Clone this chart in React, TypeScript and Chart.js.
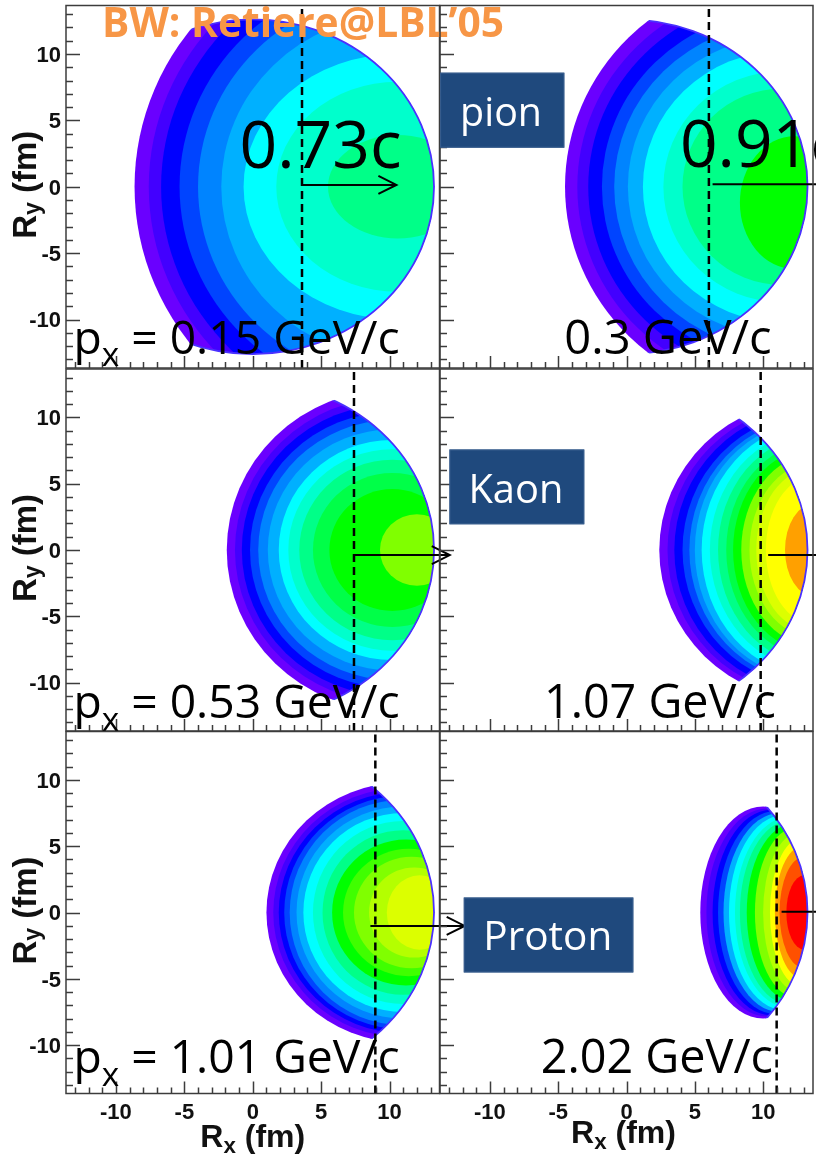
import React, { useEffect, useRef } from "react";
import { Chart, registerables } from "chart.js";

Chart.register(...registerables);

const W = 816;
const H = 1160;
const X_MIN = -13.65;
const X_MAX = 13.65;
const Y_MIN = -13.65;
const Y_MAX = 13.65;
const DISC_RX = 13.25;
const DISC_RY = 12.6;
const TICK_LABELS = [-10, -5, 0, 5, 10];

// colour levels (ROOT-like rainbow palette)
const PALETTE = [
  "#6a00ff", "#4200ff", "#0000ff", "#0044ff", "#0084ff", "#00b0ff", "#00d4ff",
  "#00ffff", "#00ffcc", "#00ff88", "#00ff48", "#00ff00", "#40ff00", "#80ff00",
  "#b4ff00", "#dcff00", "#ffff00", "#ffcc00", "#ffa000", "#ff5000", "#ff0000",
];

// ---- pion, px = 0.15 GeV/c : contour level boundaries (fm) ----
const pionLowEdge = [-8.64, -7.6, -6.7, -5.35, -4.0, -2.3, -0.67, 1.72, 5.5];
const pionLowCenter = [10.6, 10.6, 10.6, 10.6, 10.6, 10.6, 10.6, 10.6, 10.6];
const pionLowHalf = [19.2, 18.2, 17.3, 15.9, 14.6, 12.9, 10.0, 7.9, 3.9];
const pionLowCenterY = [0, 0, 0, 0, 0, 0, 0, 0, 0];
const pionLowColor = [0, 1, 2, 3, 4, 5, 7, 8, 9];

// ---- pion, px = 0.3 GeV/c ----
const pionHighEdge = [-4.5, -3.6, -2.8, -1.8, -0.9, 0.1, 1.2, 2.7, 4.1, 8.3];
const pionHighCenter = [11.4, 11.4, 11.4, 11.4, 11.4, 11.4, 11.4, 11.4, 11.4, 12.3];
const pionHighHalf = [15.9, 15.0, 14.2, 13.2, 12.3, 11.3, 10.2, 8.7, 7.4, 5.0];
const pionHighCenterY = [0, 0, 0, 0, 0, 0, 0, 0, 0, -1.2];
const pionHighColor = [0, 1, 2, 3, 4, 5, 7, 8, 9, 11];

// ---- kaon, px = 0.53 GeV/c ----
const kaonLowEdge = [-1.9, -1.3, -0.8, -0.2, 0.4, 1.1, 1.9, 2.6, 3.4, 4.4, 5.6, 9.3];
const kaonLowCenter = [10.2, 10.2, 10.2, 10.2, 10.2, 10.2, 10.2, 10.2, 10.2, 10.2, 10.2, 12.0];
const kaonLowHalf = [12.1, 11.5, 11.0, 10.4, 9.8, 9.1, 8.3, 7.6, 6.8, 5.8, 4.6, 2.7];
const kaonLowCenterY = [0, 0, 0, 0, 0, 0, 0, 0, 0, 0, 0, 0];
const kaonLowColor = [0, 1, 2, 3, 4, 5, 7, 8, 9, 10, 11, 13];

// ---- kaon, px = 1.07 GeV/c ----
const kaonHighEdge = [2.4, 3.0, 3.5, 4.1, 4.6, 5.0, 5.5, 6.1, 6.7, 7.3, 7.8, 8.4, 9.0, 9.5, 10.2, 11.6];
const kaonHighCenter = [13.75, 13.75, 13.75, 13.75, 13.75, 13.75, 13.75, 13.75, 13.75, 13.75, 13.75, 13.75, 13.75, 13.75, 13.75, 13.75];
const kaonHighHalf = [11.35, 11.0, 10.7, 10.3, 10.0, 9.8, 9.5, 9.0, 8.6, 8.1, 7.7, 7.2, 6.6, 6.2, 5.6, 3.5];
const kaonHighCenterY = [0, 0, 0, 0, 0, 0, 0, 0, 0, 0, 0, 0, 0, 0, 0, 0];
const kaonHighColor = [0, 1, 2, 3, 4, 5, 7, 8, 9, 10, 11, 13, 14, 15, 16, 18];

// ---- proton, px = 1.01 GeV/c ----
const protonLowEdge = [1.0, 1.5, 1.9, 2.3, 2.7, 3.2, 3.7, 4.4, 5.1, 5.8, 6.6, 7.4, 8.5, 9.8];
const protonLowCenter = [11, 11, 11, 11, 11, 11, 11, 11, 11, 11.2, 11.4, 11.6, 11.8, 12.2];
const protonLowHalf = [9.8, 9.4, 9.1, 8.8, 8.5, 8.0, 7.5, 6.9, 6.2, 5.5, 4.8, 4.2, 3.4, 2.8];
const protonLowCenterY = [0, 0, 0, 0, 0, 0, 0, 0, 0, 0, 0, 0, 0, 0];
const protonLowColor = [0, 1, 2, 3, 4, 5, 7, 8, 9, 11, 12, 13, 14, 15];

// ---- proton, px = 2.02 GeV/c ----
const protonHighEdge = [5.4, 5.85, 6.3, 6.7, 7.1, 7.5, 7.94, 8.3, 8.8, 9.4, 10.0, 10.5, 10.86, 11.2, 11.7];
const protonHighCenter = [10.0, 10.3, 10.6, 10.9, 11.2, 11.5, 11.8, 12.0, 12.2, 12.4, 12.6, 12.8, 12.9, 13.0, 13.0];
const protonHighHalf = [8.0, 7.85, 7.75, 7.65, 7.5, 7.35, 7.15, 6.95, 6.7, 6.4, 6.0, 5.6, 5.0, 4.2, 2.8];
const protonHighCenterY = [0, 0, 0, 0, 0, 0, 0, 0, 0, 0, 0, 0, 0, 0, 0];
const protonHighColor = [0, 1, 2, 3, 5, 7, 8, 9, 11, 13, 14, 16, 18, 19, 20];

// momenta and flow velocities
const momentumLabels = ["0.15", "0.3", "0.53", "1.07", "1.01", "2.02"];
const speedLabels = ["0.73c", "0.91c"];
const particleLabels = ["pion", "Kaon", "Proton"];
// mean emission position (dashed line, fm)
const meanX = [3.6, 6.03, 7.4, 9.82, 8.96, 10.99];

const COLS = [[66, 439.5], [440, 813]];
const ROWS = [[5.5, 368], [369, 731], [731.5, 1093.5]];

const MAIN_FONT = '"Open Sans", "Noto Sans", sans-serif';
const AXIS_FONT = '"Liberation Sans", Arial, sans-serif';

type Part = { t: string; s: number; dy: number };

const PANELS: any[] = [
  {
    id: "pi1", col: 0, row: 0, edge: pionLowEdge, center: pionLowCenter, half: pionLowHalf, cy: pionLowCenterY, color: pionLowColor,
    cut: meanX[0], arrow: { x0: 3.6, x1: 10.5, y: 0.14 },
    speed: { t: speedLabels[0], x: -0.97, y: 1.42, w: 11.85 },
    mom: { prefix: true, v: momentumLabels[0], x: -13.11, y: -12.59, w: 23.85 },
    title: true,
  },
  {
    id: "pi2", col: 1, row: 0, edge: pionHighEdge, center: pionHighCenter, half: pionHighHalf, cy: pionHighCenterY, color: pionHighColor,
    cut: meanX[1], arrow: { x0: 6.3, x1: 16.8, y: 0.19 },
    speed: { t: speedLabels[1], x: 3.91, y: 1.51, w: 11.85 },
    mom: { prefix: false, v: momentumLabels[1], x: -4.55, y: -12.59, w: 15.17 },
    box: { t: particleLabels[0], x0: -13.64, x1: -4.55, y0: 8.59, y1: 2.94, tx: -12.18, ty: 4.58, tw: 6.0 },
  },
  {
    id: "k1", col: 0, row: 1, edge: kaonLowEdge, center: kaonLowCenter, half: kaonLowHalf, cy: kaonLowCenterY, color: kaonLowColor,
    cut: meanX[2], arrow: { x0: 7.4, x1: 14.4, y: -0.38 },
    mom: { prefix: true, v: momentumLabels[2], x: -13.11, y: -12.67, w: 23.85 },
  },
  {
    id: "k2", col: 1, row: 1, edge: kaonHighEdge, center: kaonHighCenter, half: kaonHighHalf, cy: kaonHighCenterY, color: kaonHighColor,
    cut: meanX[3], arrow: { x0: 10.37, x1: 16.8, y: -0.38 },
    mom: { prefix: false, v: momentumLabels[3], x: -6.04, y: -12.67, w: 16.97 },
    box: { t: particleLabels[1], x0: -12.96, x1: -3.09, y0: 7.58, y1: 1.94, tx: -11.57, ty: 3.56, tw: 6.95 },
  },
  {
    id: "p1", col: 0, row: 2, edge: protonLowEdge, center: protonLowCenter, half: protonLowHalf, cy: protonLowCenterY, color: protonLowColor,
    cut: meanX[4], arrow: { x0: 8.6, x1: 15.49, y: -1.01 },
    mom: { prefix: true, v: momentumLabels[4], x: -13.11, y: -12.14, w: 23.85 },
  },
  {
    id: "p2", col: 1, row: 2, edge: protonHighEdge, center: protonHighCenter, half: protonHighHalf, cy: protonHighCenterY, color: protonHighColor,
    cut: meanX[5], arrow: { x0: 11.35, x1: 16.8, y: 0.05 },
    mom: { prefix: false, v: momentumLabels[5], x: -6.28, y: -12.14, w: 17.0 },
    box: { t: particleLabels[2], x0: -11.91, x1: 0.5, y0: 1.13, y1: -4.52, tx: -10.48, ty: -2.84, tw: 9.44 },
  },
];

function partsWidth(ctx: CanvasRenderingContext2D, parts: Part[], size: number, family: string, weight: string) {
  let w = 0;
  for (const p of parts) {
    ctx.font = `${weight} ${size * p.s}px ${family}`;
    w += ctx.measureText(p.t).width;
  }
  return w;
}

function drawParts(
  ctx: CanvasRenderingContext2D, parts: Part[], x: number, y: number, size: number,
  family: string, weight: string, color: string, align: "left" | "center" = "left"
) {
  const total = partsWidth(ctx, parts, size, family, weight);
  let cx = align === "center" ? x - total / 2 : x;
  ctx.fillStyle = color;
  ctx.textAlign = "left";
  ctx.textBaseline = "alphabetic";
  for (const p of parts) {
    ctx.font = `${weight} ${size * p.s}px ${family}`;
    ctx.fillText(p.t, cx, y + p.dy * size);
    cx += ctx.measureText(p.t).width;
  }
}

function fitSize(ctx: CanvasRenderingContext2D, parts: Part[], target: number, family: string, weight: string) {
  return (100 * target) / partsWidth(ctx, parts, 100, family, weight);
}

function discPath(ctx: CanvasRenderingContext2D, X: (v: number) => number, Y: (v: number) => number) {
  const kx = Math.abs(X(1) - X(0));
  const ky = Math.abs(Y(1) - Y(0));
  ctx.beginPath();
  ctx.ellipse(X(0), Y(0), DISC_RX * kx, DISC_RY * ky, 0, 0, Math.PI * 2);
}

function contourPlugin(panel: any) {
  return {
    id: "contours-" + panel.id,
    beforeDatasetsDraw(chart: any) {
      const { ctx, chartArea: ca } = chart;
      const xs = chart.scales.x;
      const ys = chart.scales.y;
      const X = (v: number) => xs.getPixelForValue(v);
      const Y = (v: number) => ys.getPixelForValue(v);
      const kx = Math.abs(X(1) - X(0));
      const ky = Math.abs(Y(1) - Y(0));
      ctx.save();
      ctx.beginPath();
      ctx.rect(ca.left, ca.top, ca.right - ca.left, ca.bottom - ca.top);
      ctx.clip();
      discPath(ctx, X, Y);
      ctx.clip();
      panel.edge.forEach((xl: number, i: number) => {
        const c = panel.center[i];
        const a = c - xl;
        const b = panel.half[i];
        ctx.beginPath();
        ctx.ellipse(X(c), Y(panel.cy[i]), a * kx, b * ky, 0, 0, Math.PI * 2);
        ctx.fillStyle = PALETTE[panel.color[i]];
        ctx.fill();
      });
      ctx.restore();
      // thin outline on the boundary of the source
      ctx.save();
      ctx.beginPath();
      ctx.rect(ca.left, ca.top, ca.right - ca.left, ca.bottom - ca.top);
      ctx.clip();
      const c0 = panel.center[0];
      ctx.beginPath();
      ctx.ellipse(X(c0), Y(panel.cy[0]), (c0 - panel.edge[0]) * kx, panel.half[0] * ky, 0, 0, Math.PI * 2);
      ctx.clip();
      discPath(ctx, X, Y);
      ctx.strokeStyle = "#4a30ff";
      ctx.lineWidth = 1.8;
      ctx.stroke();
      ctx.restore();
    },
  };
}

function overlayPlugin(panel: any) {
  return {
    id: "overlay-" + panel.id,
    afterDraw(chart: any) {
      const { ctx, chartArea: ca } = chart;
      const xs = chart.scales.x;
      const ys = chart.scales.y;
      const X = (v: number) => xs.getPixelForValue(v);
      const Y = (v: number) => ys.getPixelForValue(v);
      ctx.save();

      // arrow head
      const ah = panel.arrow;
      const tx = X(ah.x1);
      const ty = Y(ah.y);
      ctx.strokeStyle = "#000";
      ctx.lineWidth = 2;
      ctx.beginPath();
      ctx.moveTo(tx - 18, ty - 9);
      ctx.lineTo(tx, ty);
      ctx.lineTo(tx - 18, ty + 9);
      ctx.stroke();

      // frame
      ctx.strokeStyle = "#3c3c3c";
      ctx.lineWidth = 1.5;
      ctx.strokeRect(ca.left, ca.top, ca.right - ca.left, ca.bottom - ca.top);

      // ticks (inside, left and bottom)
      ctx.beginPath();
      for (let v = Math.ceil(Y_MIN); v <= Y_MAX; v++) {
        const len = v % 5 === 0 ? 14 : 7;
        const py = Math.round(Y(v)) + 0.5;
        ctx.moveTo(ca.left, py);
        ctx.lineTo(ca.left + len, py);
      }
      for (let v = Math.ceil(X_MIN); v <= X_MAX; v++) {
        const len = v % 5 === 0 ? 12 : 6;
        const px = Math.round(X(v)) + 0.5;
        ctx.moveTo(px, ca.bottom);
        ctx.lineTo(px, ca.bottom - len);
      }
      ctx.stroke();

      // tick labels
      ctx.fillStyle = "#111";
      ctx.font = `bold 22px ${AXIS_FONT}`;
      if (panel.col === 0) {
        ctx.textAlign = "right";
        ctx.textBaseline = "alphabetic";
        for (const v of TICK_LABELS) ctx.fillText(String(v), ca.left - 5, Y(v) + 7.8);
        ctx.save();
        ctx.translate(ca.left - 30, Y(0) - 2);
        ctx.rotate(-Math.PI / 2);
        drawParts(
          ctx,
          [{ t: "R", s: 1, dy: 0 }, { t: "y", s: 0.7, dy: 0.12 }, { t: " (fm)", s: 1, dy: 0 }],
          0, 0, 33, AXIS_FONT, "bold", "#111", "center"
        );
        ctx.restore();
      }
      if (panel.row === 2) {
        ctx.font = `bold 22px ${AXIS_FONT}`;
        ctx.textAlign = "center";
        ctx.textBaseline = "alphabetic";
        ctx.fillStyle = "#111";
        for (const v of TICK_LABELS) ctx.fillText(String(v), X(v), ca.bottom + 25);
        drawParts(
          ctx,
          [{ t: "R", s: 1, dy: 0 }, { t: "x", s: 0.7, dy: 0.2 }, { t: " (fm)", s: 1, dy: 0 }],
          X(0) - (panel.col === 1 ? 3 : 0), ca.bottom + (panel.col === 1 ? 49 : 53), 32, AXIS_FONT, "bold", "#111", "center"
        );
      }

      // momentum label
      const m = panel.mom;
      const mParts: Part[] = m.prefix
        ? [{ t: "p", s: 1, dy: 0 }, { t: "x", s: 0.72, dy: 0.27 }, { t: " = " + m.v + " GeV/c", s: 1, dy: 0 }]
        : [{ t: m.v + " GeV/c", s: 1, dy: 0 }];
      const mW = X(m.x + m.w) - X(m.x);
      const mSize = fitSize(ctx, mParts, mW, MAIN_FONT, "normal");
      drawParts(ctx, mParts, X(m.x), Y(m.y), mSize, MAIN_FONT, "normal", "#000");

      // flow velocity label
      if (panel.speed) {
        const s = panel.speed;
        const sParts: Part[] = [{ t: s.t, s: 1, dy: 0 }];
        const sSize = fitSize(ctx, sParts, X(s.x + s.w) - X(s.x), MAIN_FONT, "normal");
        drawParts(ctx, sParts, X(s.x), Y(s.y), sSize, MAIN_FONT, "normal", "#000");
      }

      // title
      if (panel.title) {
        const tParts: Part[] = [{ t: "BW: Retiere@LBL\u201905", s: 1, dy: 0 }];
        const tx0 = X(-11.01);
        const tSize = fitSize(ctx, tParts, 402, MAIN_FONT, "bold");
        drawParts(ctx, tParts, tx0, Y(11.3), tSize, MAIN_FONT, "bold", "#f79646");
      }

      // particle box
      if (panel.box) {
        const b = panel.box;
        const bx0 = X(b.x0), bx1 = X(b.x1), by0 = Y(b.y0), by1 = Y(b.y1);
        ctx.fillStyle = "#1f497d";
        ctx.fillRect(bx0, by0, bx1 - bx0, by1 - by0);
        ctx.strokeStyle = "#3a5f8f";
        ctx.lineWidth = 1;
        ctx.strokeRect(bx0 + 0.5, by0 + 0.5, bx1 - bx0 - 1, by1 - by0 - 1);
        const bParts: Part[] = [{ t: b.t, s: 1, dy: 0 }];
        const bSize = fitSize(ctx, bParts, X(b.tx + b.tw) - X(b.tx), MAIN_FONT, "normal");
        drawParts(ctx, bParts, X(b.tx), Y(b.ty), bSize, MAIN_FONT, "normal", "#ffffff");
      }

      ctx.restore();
    },
  };
}

function makeChart(canvas: HTMLCanvasElement, panel: any) {
  const [l, r] = COLS[panel.col];
  const [t, b] = ROWS[panel.row];
  return new Chart(canvas, {
    type: "scatter",
    data: {
      datasets: [
        {
          data: [{ x: panel.cut, y: Y_MIN }, { x: panel.cut, y: Y_MAX }],
          showLine: true,
          borderColor: "#000",
          borderWidth: 2.5,
          borderDash: [8, 5],
          pointRadius: 0,
          clip: false,
        },
        {
          data: [{ x: panel.arrow.x0, y: panel.arrow.y }, { x: panel.arrow.x1, y: panel.arrow.y }],
          showLine: true,
          borderColor: "#000",
          borderWidth: 2,
          pointRadius: 0,
          clip: false,
        },
      ],
    } as any,
    options: {
      animation: false,
      responsive: false,
      maintainAspectRatio: false,
      events: [],
      layout: { padding: { left: l, right: W - r, top: t, bottom: H - b } },
      scales: {
        x: { type: "linear", min: X_MIN, max: X_MAX, display: false },
        y: { type: "linear", min: Y_MIN, max: Y_MAX, display: false },
      },
      plugins: { legend: { display: false }, tooltip: { enabled: false } },
    } as any,
    plugins: [contourPlugin(panel), overlayPlugin(panel)],
  });
}

export default function App() {
  const refs = useRef<(HTMLCanvasElement | null)[]>([]);
  useEffect(() => {
    const charts = PANELS.map((p, i) => makeChart(refs.current[i] as HTMLCanvasElement, p));
    return () => charts.forEach((c) => c.destroy());
  }, []);
  return (
    <div style={{ position: "absolute", left: 0, top: 0, width: W, height: H, background: "#fff", overflow: "hidden" }}>
      {PANELS.map((p, i) => (
        <canvas
          key={p.id}
          ref={(el) => {
            refs.current[i] = el;
          }}
          width={W}
          height={H}
          style={{ position: "absolute", left: 0, top: 0, width: W, height: H }}
        />
      ))}
    </div>
  );
}
